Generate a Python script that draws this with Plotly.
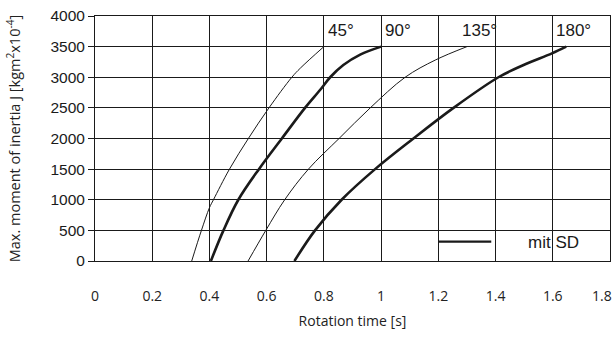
import plotly.graph_objects as go

# Rotation time [s] vs max. moment of inertia J
y_45 = [0, 500, 870, 1000, 1500, 2000, 2500, 3000, 3150, 3500]
x_45 = [0.338, 0.372, 0.400, 0.414, 0.470, 0.536, 0.608, 0.688, 0.718, 0.800]

y_90 = [0, 500, 1000, 1500, 2000, 2500, 2800, 3000, 3200, 3370, 3500]
x_90 = [0.405, 0.449, 0.501, 0.573, 0.653, 0.734, 0.788, 0.822, 0.868, 0.927, 1.000]

y_135 = [0, 500, 1000, 1500, 2000, 2500, 3000, 3280, 3500]
x_135 = [0.535, 0.597, 0.663, 0.746, 0.853, 0.962, 1.084, 1.189, 1.300]

y_180 = [0, 500, 1000, 1500, 2000, 2500, 3000, 3200, 3390, 3500]
x_180 = [0.697, 0.769, 0.862, 0.979, 1.113, 1.253, 1.410, 1.498, 1.597, 1.647]

angle_labels = ["45°", "90°", "135°", "180°"]
angle_label_x = [0.808, 1.008, 1.276, 1.603]
angle_label_y = 3770

legend_x = [1.199, 1.385]
legend_y = [315, 315]
legend_text = "mit SD"

x_ticks = [0, 0.2, 0.4, 0.6, 0.8, 1, 1.2, 1.4, 1.6, 1.8]
x_tick_text = ["0", "0.2", "0.4", "0.6", "0.8", "1", "1.2", "1.4", "1.6", "1.8"]
y_ticks = [0, 500, 1000, 1500, 2000, 2500, 3000, 3500, 4000]

INK = "#1a1a1a"
TICKFONT_X = dict(family="Open Sans", size=14, color="#222")
fig = go.Figure()

series = [(x_45, y_45, 1.0), (x_90, y_90, 2.6), (x_135, y_135, 1.0), (x_180, y_180, 2.6)]
for xs, ys, w in series:
    fig.add_trace(go.Scatter(x=xs, y=ys, mode="lines",
                             line=dict(color=INK, width=w, shape="spline", smoothing=1.0),
                             showlegend=False, hoverinfo="skip"))

fig.add_trace(go.Scatter(x=legend_x, y=legend_y, mode="lines",
                         line=dict(color=INK, width=2.2), showlegend=False, hoverinfo="skip"))

for t, lx in zip(angle_labels, angle_label_x):
    fig.add_annotation(x=lx, y=angle_label_y, text=t, showarrow=False,
                       xanchor="left", yanchor="middle",
                       font=dict(family="Liberation Sans, Arial", size=17, color=INK))

fig.add_annotation(x=1.507, y=300, text=legend_text, showarrow=False,
                   xanchor="left", yanchor="middle",
                   font=dict(family="Liberation Sans, Arial", size=17, color=INK))

# last x tick label drawn inside the page (the edge would cut it otherwise)
fig.add_annotation(x=x_ticks[-1], xref="x", y=-0.14, yref="paper",
                   text=x_tick_text[-1], showarrow=False,
                   xanchor="right", yanchor="middle", xshift=4, font=TICKFONT_X)

fig.update_xaxes(range=[0, 1.8], tickvals=x_ticks[:-1], ticktext=x_tick_text[:-1],
                 showgrid=True, gridcolor=INK, gridwidth=1,
                 showline=True, linecolor=INK, linewidth=1, mirror=True,
                 zeroline=False, ticks="outside", ticklen=0, ticklabelstandoff=22,
                 automargin=False,
                 tickfont=TICKFONT_X,
                 title=dict(text="Rotation time [s]", standoff=12,
                            font=dict(family="Open Sans", size=14, color="#222")))
fig.update_yaxes(range=[0, 4000], tickvals=y_ticks,
                 showgrid=True, gridcolor=INK, gridwidth=1,
                 showline=True, linecolor=INK, linewidth=1, mirror=True,
                 zeroline=False, ticks="outside", ticklen=6, tickcolor=INK,
                 automargin=False,
                 tickfont=dict(family="Liberation Sans, Arial", size=15.5, color=INK),
                 title=dict(text="Max. moment of inertia J [kgm<sup>2</sup>x10<sup>-4</sup>]", standoff=26,
                            font=dict(family="Open Sans", size=14.5, color="#222")))

fig.update_layout(width=615, height=338, margin=dict(l=95, r=5, t=16, b=77),
                  plot_bgcolor="white", paper_bgcolor="white")

fig.write_html("out.html", config={"displayModeBar": False},
               post_script="document.body.style.margin='0';")
